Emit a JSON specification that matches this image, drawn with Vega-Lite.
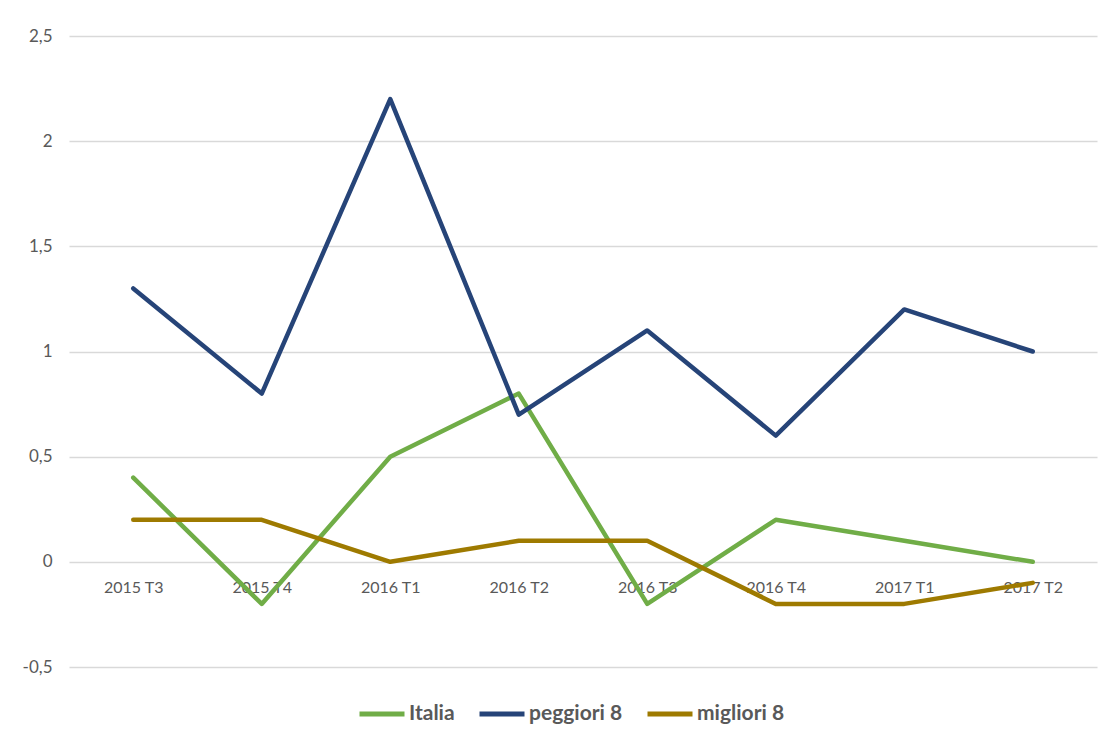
{
  "$schema": "https://vega.github.io/schema/vega-lite/v6.json",
  "width": 1028,
  "height": 631,
  "autosize": {"type": "none"},
  "padding": {"left": 69, "top": 36, "right": 5, "bottom": 68},
  "background": "white",
  "config": {
    "view": {"stroke": null},
    "font": "Lato",
    "axis": {"labelFont": "Lato", "labelColor": "#595959", "labelFontSize": 16},
    "legend": {"labelFont": "Lato"}
  },
  "data": {
    "values": [
      {"trimestre": "2015 T3", "serie": "Italia", "valore": 0.4},
      {"trimestre": "2015 T4", "serie": "Italia", "valore": -0.2},
      {"trimestre": "2016 T1", "serie": "Italia", "valore": 0.5},
      {"trimestre": "2016 T2", "serie": "Italia", "valore": 0.8},
      {"trimestre": "2016 T3", "serie": "Italia", "valore": -0.2},
      {"trimestre": "2016 T4", "serie": "Italia", "valore": 0.2},
      {"trimestre": "2017 T1", "serie": "Italia", "valore": 0.1},
      {"trimestre": "2017 T2", "serie": "Italia", "valore": 0.0},
      {"trimestre": "2015 T3", "serie": "peggiori 8", "valore": 1.3},
      {"trimestre": "2015 T4", "serie": "peggiori 8", "valore": 0.8},
      {"trimestre": "2016 T1", "serie": "peggiori 8", "valore": 2.2},
      {"trimestre": "2016 T2", "serie": "peggiori 8", "valore": 0.7},
      {"trimestre": "2016 T3", "serie": "peggiori 8", "valore": 1.1},
      {"trimestre": "2016 T4", "serie": "peggiori 8", "valore": 0.6},
      {"trimestre": "2017 T1", "serie": "peggiori 8", "valore": 1.2},
      {"trimestre": "2017 T2", "serie": "peggiori 8", "valore": 1.0},
      {"trimestre": "2015 T3", "serie": "migliori 8", "valore": 0.2},
      {"trimestre": "2015 T4", "serie": "migliori 8", "valore": 0.2},
      {"trimestre": "2016 T1", "serie": "migliori 8", "valore": 0.0},
      {"trimestre": "2016 T2", "serie": "migliori 8", "valore": 0.1},
      {"trimestre": "2016 T3", "serie": "migliori 8", "valore": 0.1},
      {"trimestre": "2016 T4", "serie": "migliori 8", "valore": -0.2},
      {"trimestre": "2017 T1", "serie": "migliori 8", "valore": -0.2},
      {"trimestre": "2017 T2", "serie": "migliori 8", "valore": -0.1}
    ]
  },
  "mark": {"type": "line", "strokeWidth": 4.5, "strokeJoin": "round", "strokeCap": "round"},
  "encoding": {
    "x": {
      "field": "trimestre",
      "type": "ordinal",
      "sort": null,
      "scale": {"type": "point", "padding": 0.5},
      "axis": {
        "title": null,
        "labelAngle": 0,
        "domain": false,
        "ticks": false,
        "tickSize": 0,
        "grid": false,
        "offset": -105,
        "labelPadding": 17
      }
    },
    "y": {
      "field": "valore",
      "type": "quantitative",
      "scale": {"domain": [-0.5, 2.5], "nice": false, "zero": false},
      "axis": {
        "title": null,
        "values": [-0.5, 0, 0.5, 1, 1.5, 2, 2.5],
        "labelExpr": "replace(toString(datum.value), '.', ',')",
        "labelFontSize": 17,
        "domain": false,
        "ticks": false,
        "tickSize": 0,
        "labelPadding": 17,
        "grid": true,
        "gridColor": "#d9d9d9",
        "gridWidth": 1.3
      }
    },
    "color": {
      "field": "serie",
      "type": "nominal",
      "scale": {
        "domain": ["Italia", "peggiori 8", "migliori 8"],
        "range": ["#70ad47", "#264478", "#9e7a00"]
      },
      "legend": {
        "title": null,
        "orient": "none",
        "legendX": 288,
        "legendY": 653,
        "direction": "horizontal",
        "symbolType": "stroke",
        "symbolSize": 2025,
        "symbolStrokeWidth": 5,
        "labelFontSize": 21,
        "labelFontWeight": "bold",
        "labelColor": "#595959",
        "labelOffset": 2,
        "columnPadding": 14
      }
    }
  }
}
